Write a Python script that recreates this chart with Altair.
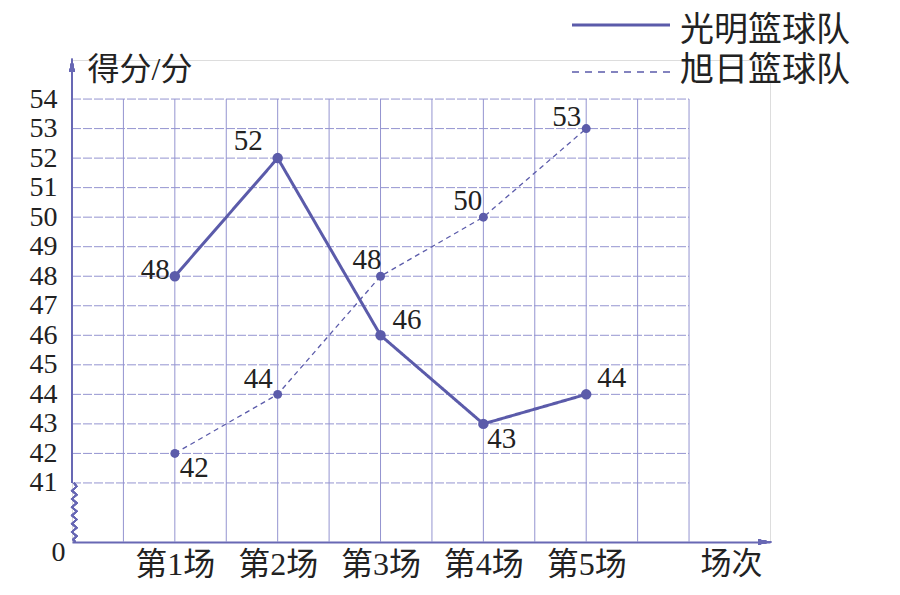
import altair as alt
import pandas as pd

# ---------------- data ----------------
games = ["第1场", "第2场", "第3场", "第4场", "第5场"]
teams = ["光明篮球队", "旭日篮球队"]
guangming = [48, 52, 46, 43, 44]
xuri = [42, 44, 48, 50, 53]
y_ticks = [41, 42, 43, 44, 45, 46, 47, 48, 49, 50, 51, 52, 53, 54]
y_break = 39          # position of the "0" on the broken axis
zero_label = "0"
x_title = "场次"
y_title = "得分/分"

# label placement (align, dx, dy) for each point: team -> per game
label_place = {
    "光明篮球队": [("right", -5, -6), ("right", -15, -17), ("left", 12, -15),
                 ("left", 4, 15), ("left", 11, -16)],
    "旭日篮球队": [("left", 5, 15), ("right", -5, -15), ("right", 1, -16),
                 ("right", -1, -16), ("right", -5, -12)],
}

rows = []
for team, vals in zip(teams, [guangming, xuri]):
    for i, (g, v) in enumerate(zip(games, vals)):
        rows.append({"team": team, "game": g, "pos": 2 * (i + 1), "score": v})
df = pd.DataFrame(rows)
legend_df = pd.DataFrame({"team": teams})

n_grid_x = 2 * len(games) + 2
vgrid = pd.DataFrame({"gx": list(range(1, n_grid_x + 1))})
hgrid = pd.DataFrame({"gy": y_ticks})

# ---------------- styles ----------------
PURPLE = "#5b5baa"
AXIS = "#6868b4"
GRID = "#9494d0"
TXT = "#222222"
FONT = "'Liberation Serif', 'Noto Sans CJK SC'"
W, H = 698, 482
UX, UY = 51.42, 29.53
x_dom = [0, W / UX]
y_dom = [y_break, y_break + H / UY]

xs = alt.Scale(domain=x_dom, nice=False, zero=False)
ys = alt.Scale(domain=y_dom, nice=False, zero=False)
dash_scale = alt.Scale(domain=teams, range=[[1, 0], [5, 4]])
width_scale = alt.Scale(domain=teams, range=[3, 1.3])

label_expr = "{" + ",".join(f"'{2*(i+1)}':'{g}'" for i, g in enumerate(games)) + "}[datum.value]"

x_axis = alt.Axis(
    values=[2 * (i + 1) for i in range(len(games))],
    labelExpr=label_expr, labelOverlap=False,
    grid=False, ticks=False, domain=True, domainColor=AXIS, domainWidth=2,
    labelFont=FONT, labelFontSize=32, labelColor=TXT, labelPadding=7,
    title=x_title, titleFont=FONT, titleFontSize=31, titleFontWeight="normal",
    titleColor=TXT, titleX=659, titleY=7, titleBaseline="top", titleAlign="center",
)
y_axis = alt.Axis(
    values=[y_break] + y_ticks,
    labelExpr=f"datum.value == {y_break} ? '{zero_label}' : datum.value",
    labelOverlap=False, labelBound=False, labelFlush=False,
    grid=False, ticks=False, domain=False,
    labelFont=FONT, labelFontSize=28, labelColor=TXT,
    labelPadding={"condition": {"test": f"datum.value == {y_break}", "value": 7}, "value": 15},
    labelOffset={"condition": {"test": f"datum.value == {y_break}", "value": 10}, "value": 0},
    title=y_title, titleFont=FONT, titleFontSize=32, titleFontWeight="normal",
    titleColor=TXT, titleAngle=0, titleX=15, titleY=19, titleAlign="left",
    titleBaseline="alphabetic",
)

base = alt.Chart(df)

hlines = alt.Chart(hgrid).mark_rule(color=GRID, strokeWidth=1, strokeDash=[9, 2]).encode(
    y=alt.Y("gy:Q", scale=ys, axis=y_axis),
    x=alt.datum(0, scale=xs, axis=x_axis),
    x2=alt.datum(n_grid_x),
)
vlines = alt.Chart(vgrid).mark_rule(color=GRID, strokeWidth=1).encode(
    x=alt.X("gx:Q", scale=xs, axis=x_axis),
    y=alt.datum(y_break, scale=ys, axis=y_axis),
    y2=alt.datum(y_ticks[-1]),
)

yaxis_line = base.mark_rule(color=AXIS, strokeWidth=2).encode(
    x=alt.value(0), y=alt.datum(y_ticks[0], axis=y_axis), y2=alt.value(0)
)
squiggle_path = ("M0,-1 L0.09,-0.88 L-0.07,-0.74 L0.09,-0.6 L-0.07,-0.46 L0.09,-0.32 "
                 "L-0.07,-0.18 L0.09,-0.04 L-0.07,0.1 L0.09,0.24 L-0.07,0.38 L0.09,0.52 "
                 "L-0.07,0.66 L0.09,0.8 L-0.03,0.92 L0.05,1")
squiggle = base.mark_point(shape=squiggle_path, filled=False, stroke=AXIS,
                           strokeWidth=1.5, size=3481, opacity=1).encode(
    x=alt.value(2), y=alt.datum((y_break + y_ticks[0]) / 2, axis=y_axis)
)
arrow_up = base.mark_point(shape="M0,-1 L0.4,1 L-0.4,1 Z", filled=True, color=AXIS,
                           size=196, opacity=1).encode(x=alt.value(0), y=alt.value(5))
arrow_right = base.mark_point(shape="M1,0 L-1,0.4 L-1,-0.4 Z", filled=True, color=AXIS,
                              size=196, opacity=1).encode(x=alt.value(W - 5), y=alt.value(H))

lines = base.mark_line(color=PURPLE).encode(
    x=alt.X("pos:Q", scale=xs, axis=x_axis),
    y=alt.Y("score:Q", scale=ys, axis=y_axis),
    detail="team:N",
    strokeDash=alt.StrokeDash("team:N", scale=dash_scale, legend=None),
    strokeWidth=alt.StrokeWidth("team:N", scale=width_scale, legend=None),
)
points = base.mark_circle(color=PURPLE, opacity=1).encode(
    x=alt.X("pos:Q", scale=xs, axis=x_axis),
    y=alt.Y("score:Q", scale=ys, axis=y_axis),
    size=alt.Size("team:N", scale=alt.Scale(domain=teams, range=[110, 80]), legend=None),
)

text_layers = []
for team in teams:
    for i, g in enumerate(games):
        align, dx, dy = label_place[team][i]
        text_layers.append(
            base.transform_filter(
                (alt.datum.team == team) & (alt.datum.game == g)
            ).mark_text(align=align, baseline="middle", dx=dx, dy=dy, font=FONT,
                        fontSize=29, color=TXT).encode(
                x=alt.X("pos:Q", scale=xs, axis=x_axis),
                y=alt.Y("score:Q", scale=ys, axis=y_axis),
                text=alt.Text("score:Q"),
            )
        )

# legend drawn from the team list (top right, outside the grid)
legend_rows = [(-35, -29, [1, 0], 3), (12, 11, [7, 6], 1.3)]
legend_layers = []
for team, (ly, ty, dash, sw) in zip(teams, legend_rows):
    ld = alt.Chart(legend_df).transform_filter(alt.datum.team == team)
    legend_layers.append(
        ld.mark_rule(color=PURPLE, strokeWidth=sw, strokeDash=dash).encode(
            x=alt.value(500), x2=alt.value(598), y=alt.value(ly)
        )
    )
    legend_layers.append(
        ld.mark_text(align="left", baseline="middle", font=FONT, fontSize=34,
                     color=TXT).encode(x=alt.value(608), y=alt.value(ty), text="team:N")
    )

chart = alt.layer(
    hlines, vlines, yaxis_line, squiggle, arrow_up, arrow_right, lines, points,
    *text_layers, *legend_layers
).properties(
    width=W, height=H,
    autosize=alt.AutoSizeParams(type="none"),
    padding={"left": 64, "top": 52, "right": 100, "bottom": 40},
).configure_view(stroke=None).configure_axis(
    labelOverlap=False
).configure(background="white")

chart.save("out.html", embed_options={"renderer": "svg", "actions": False})
